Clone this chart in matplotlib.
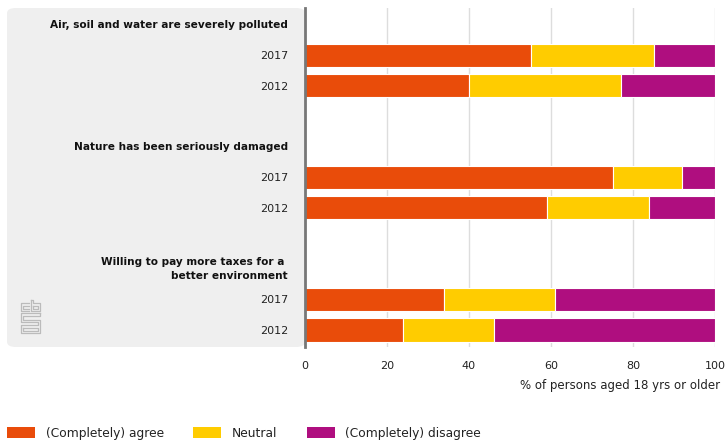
import numpy as np
import matplotlib
matplotlib.use("Agg")
import matplotlib.pyplot as plt
from matplotlib.patches import FancyBboxPatch, Patch


# =============================
# DATA
# =============================

statements = [
    "Air, soil and water are severely polluted",
    "Nature has been seriously damaged",
    "Willing to pay more taxes for a \nbetter environment",
]
years = ["2017", "2012"]

# per statement: [2017, 2012]
agree = [[55, 40], [75, 59], [34, 24]]
neutral = [[30, 37], [17, 25], [27, 22]]
disagree = [[15, 23], [8, 16], [39, 54]]

series_names = ["(Completely) agree", "Neutral", "(Completely) disagree"]
colors = ["#e94c0a", "#ffcc00", "#af0e7f"]

xticks = [0, 20, 40, 60, 80, 100]
xlabel = "% of persons aged 18 yrs or older"


# =============================
# FIGURE
# =============================

W, H = 728, 440
fig = plt.figure(figsize=(W / 100, H / 100), dpi=100)

# grey panel behind the labels
panel = FancyBboxPatch(
    (7 / W, (H - 347) / H), (305 - 7) / W, (347 - 8) / H,
    boxstyle="round,pad=0,rounding_size=0.012",
    transform=fig.transFigure, facecolor="#efefef", edgecolor="none", zorder=-5
)
fig.patches.append(panel)

ax = fig.add_axes([305 / W, (H - 347) / H, 410 / W, 339 / H])
ax.set_facecolor("none")
ax.set_zorder(2)

# y layout: each statement takes 4 slots (title, 2017, 2012, gap)
ytick_pos = []
ytick_lab = []
for si, name in enumerate(statements):
    base = 4 * si + 0.55
    ax.text(-17 / 410, base, name, transform=ax.get_yaxis_transform(),
            ha="right", va="center", fontsize=7.6, fontweight="bold",
            color="#111111", linespacing=1.45)
    for yi, yr in enumerate(years):
        y = base + 1 + yi
        a = agree[si][yi]
        n = neutral[si][yi]
        d = disagree[si][yi]
        left = 0
        for val, col in zip([a, n, d], colors):
            ax.barh(y, val, left=left, height=0.76, color=col,
                    edgecolor="white", linewidth=0.8, zorder=3)
            left += val
        ytick_pos.append(y)
        ytick_lab.append(yr)

ax.set_ylim(11.11, 0)
ax.set_xlim(0, 100)
ax.set_yticks(ytick_pos)
ax.set_yticklabels(ytick_lab, fontsize=8, color="#222222")
ax.tick_params(axis="y", length=0, pad=12.2)
ax.set_xticks(xticks)
ax.set_xticklabels([str(t) for t in xticks], fontsize=8, color="#222222")
ax.tick_params(axis="x", length=0, pad=10)

ax.grid(axis="x", color="#dddddd", linewidth=1, zorder=0)
for s in ["top", "right", "bottom"]:
    ax.spines[s].set_visible(False)
ax.spines["left"].set_color("#777777")
ax.spines["left"].set_linewidth(2)
ax.spines["left"].set_zorder(5)

fig.text(720 / W, 1 - 385 / H, xlabel, ha="right", va="center",
         fontsize=8.5, color="#222222")

# small cbs logo outline
logo_col = "#bbbbbb"
segs = [
    [(29, 303), (21, 303), (21, 311), (29, 311)],
    [(29, 306), (23, 306), (23, 309), (29, 309)],
    [(31, 300), (31, 311), (40, 311), (40, 303), (33, 303), (33, 300), (31, 300)],
    [(33, 306), (38, 306), (38, 309), (33, 309), (33, 306)],
    [(40, 313), (21, 313), (21, 322), (38, 322), (38, 325), (21, 325),
     (21, 333), (40, 333), (40, 320), (23, 320), (23, 316), (40, 316), (40, 313)],
    [(23, 328), (23, 331), (38, 331), (38, 328), (23, 328)],
]
for seg in segs:
    xs = [p[0] / W for p in seg]
    ys = [1 - p[1] / H for p in seg]
    fig.add_artist(plt.Line2D(xs, ys, color=logo_col, linewidth=0.9,
                              transform=fig.transFigure, zorder=1))

# legend
handles = [Patch(facecolor=c, edgecolor="none") for c in colors]
fig.legend(handles, series_names, loc="lower left",
           bbox_to_anchor=(7 / W, 0.0), ncol=3, frameon=False,
           fontsize=8.8, handlelength=2.3, handleheight=1.05,
           handletextpad=0.85, columnspacing=2.42, borderpad=0,
           borderaxespad=0, labelcolor="#222222")

fig.savefig("out.png", dpi=100)
